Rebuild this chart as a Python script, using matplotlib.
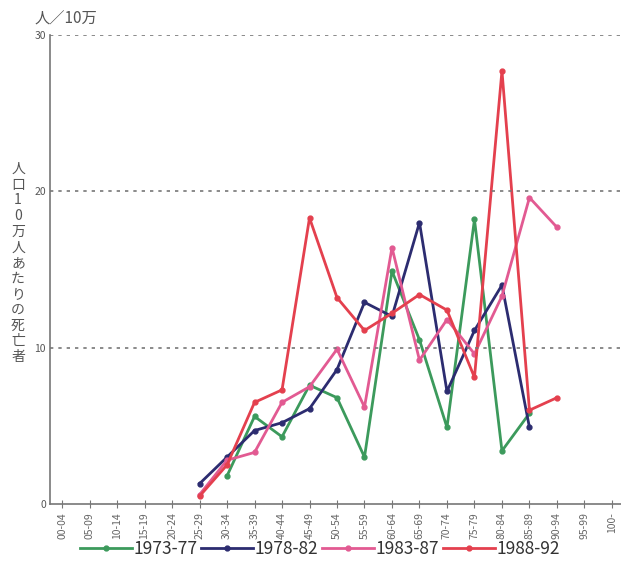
import numpy as np
import matplotlib
matplotlib.use('Agg')
from matplotlib import pyplot as plt

plt.rcParams['font.family'] = ['Noto Sans CJK JP', 'DejaVu Sans']

# age groups on the x axis
ages = ['00-04', '05-09', '10-14', '15-19', '20-24', '25-29', '30-34', '35-39',
        '40-44', '45-49', '50-54', '55-59', '60-64', '65-69', '70-74', '75-79',
        '80-84', '85-89', '90-94', '95-99', '100-']

# deaths per 100,000 (None = no data)
s1973 = [None, None, None, None, None, None, 1.8, 5.6, 4.3, 7.6, 6.8, 3.0,
         14.9, 10.5, 4.9, 18.2, 3.4, 5.8, None, None, None]
s1978 = [None, None, None, None, None, 1.3, 3.0, 4.7, 5.2, 6.1, 8.6, 12.9,
         12.0, 18.0, 7.2, 11.1, 14.0, 4.9, None, None, None]
s1983 = [None, None, None, None, None, 0.6, 2.8, 3.3, 6.5, 7.5, 9.9, 6.2,
         16.4, 9.2, 11.8, 9.6, 13.3, 19.6, 17.7, None, None]
s1988 = [None, None, None, None, None, 0.5, 2.5, 6.5, 7.3, 18.3, 13.2, 11.1,
         12.2, 13.4, 12.4, 8.1, 27.7, 6.0, 6.8, None, None]

labels = ['1973-77', '1978-82', '1983-87', '1988-92']
colors = ['#3c9a5c', '#2c2c70', '#e25a92', '#e4404e']

fig = plt.figure(figsize=(6.21, 5.83), dpi=100)
ax = fig.add_axes([0.0805, 0.1355, 0.9195, 0.8045])

x = np.arange(len(ages))
for data, lab, col in zip([s1973, s1978, s1983, s1988], labels, colors):
    y = np.array([np.nan if v is None else v for v in data], dtype=float)
    ax.plot(x, y, color=col, lw=2, marker='o', ms=3.5, label=lab)

ax.set_xlim(-0.44, 20.33)
ax.set_ylim(0, 30)
ax.set_xticks(x)
ax.set_xticklabels(ages, rotation=90, fontsize=7.5, color='#666666')
ax.set_yticks([0, 10, 20, 30])
ax.set_yticklabels(['0', '10', '20', '30'], fontsize=7.5, color='#555555')
ax.tick_params(axis='x', direction='inout', length=6, color='#777777', pad=3)
ax.tick_params(axis='y', length=0, pad=3)

for v in [10, 20, 30]:
    ax.axhline(v, color='#777777', lw=1.2, ls=(0, (2, 3)))

ax.spines['top'].set_visible(False)
ax.spines['right'].set_visible(False)
ax.spines['left'].set_color('#777777')
ax.spines['bottom'].set_color('#777777')
ax.spines['left'].set_linewidth(1.2)
ax.spines['bottom'].set_linewidth(1.2)

# unit label and vertical axis title
fig.text(0.055, 0.952, '人／10万', fontsize=11, color='#555555', ha='left', va='bottom')
fig.text(0.029, 0.549, '\n'.join('人口10万人あたりの死亡者'), fontsize=10, color='#555555',
         ha='center', va='center', linespacing=1.15)

fig.legend(loc='center', bbox_to_anchor=(0.515, 0.058), ncol=4, frameon=False,
           fontsize=12.5, handlelength=3.0, handletextpad=0.1, columnspacing=0.2,
           labelcolor='#333333')

plt.savefig('out.png', dpi=100)
